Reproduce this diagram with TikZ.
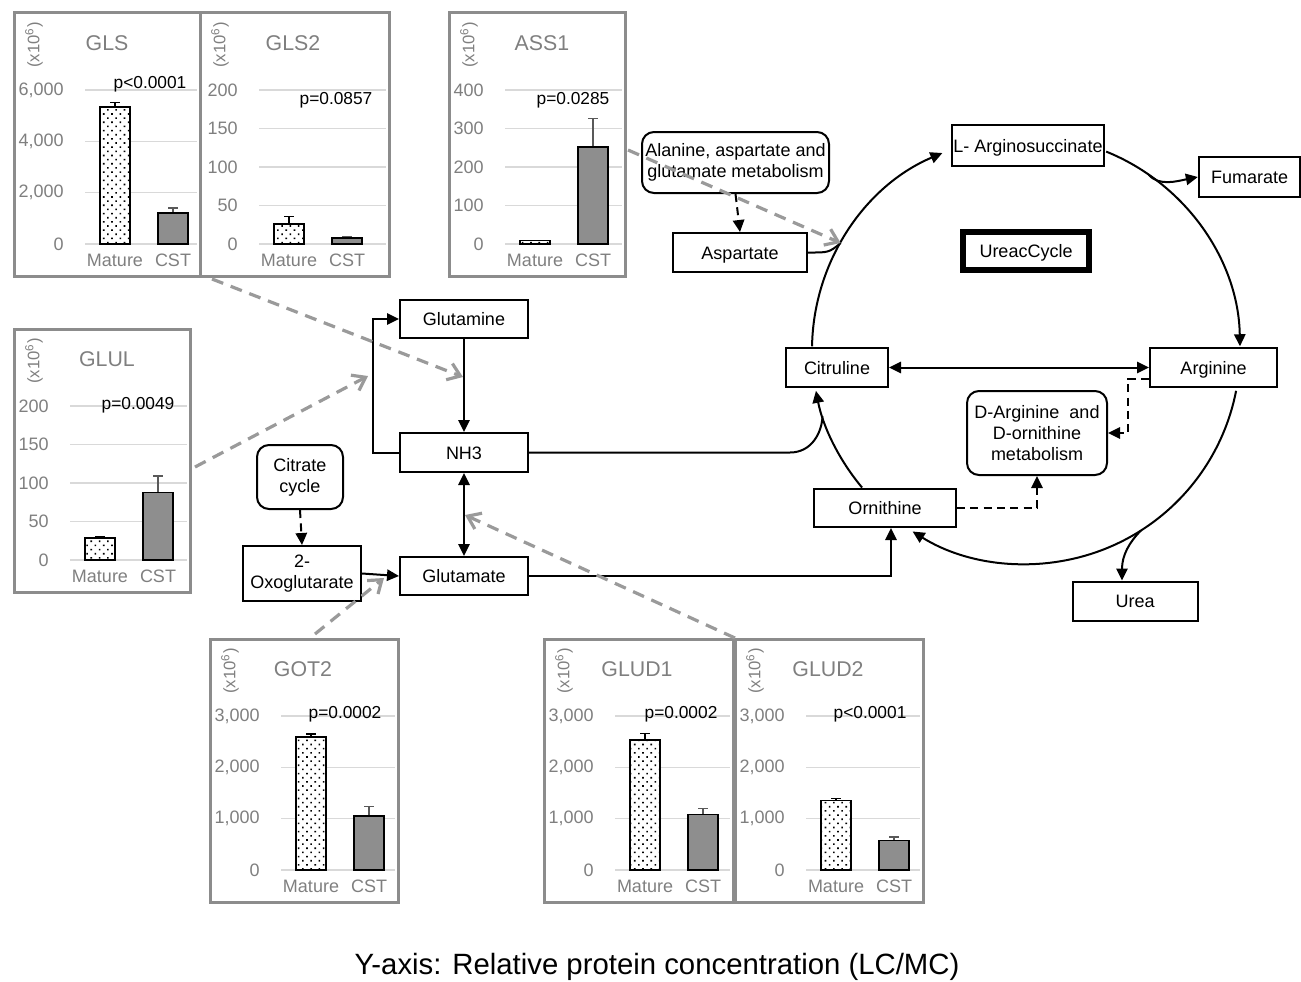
\documentclass[tikz,border=0pt]{standalone}
\usepackage{fontspec}
\setmainfont{Liberation Sans}
\usetikzlibrary{arrows.meta,calc,patterns.meta}
\definecolor{chartGray}{HTML}{8C8C8C}
\definecolor{chartText}{HTML}{7F7F7F}
\definecolor{chartGrid}{HTML}{D9D9D9}
\definecolor{cstFill}{HTML}{8E8E8E}
\definecolor{enzArrow}{HTML}{9A9A9A}
\tikzset{
    % Chart parts
    panel/.style={draw=chartGray, line width=2.25pt},
    unitlbl/.style={rotate=90, text=chartText, font=\fontsize{12.5}{13}\selectfont, inner sep=0pt},
    ctitle/.style={text=chartText, font=\fontsize{16}{18}\selectfont, inner sep=0pt},
    tick/.style={text=chartText, font=\fontsize{13.5}{15}\selectfont, inner sep=0pt},
    catlbl/.style={text=chartText, font=\fontsize{13.5}{15}\selectfont, inner sep=0pt},
    pval/.style={font=\fontsize{13}{15}\selectfont, inner sep=0pt},
    gridln/.style={draw=chartGrid, line width=1.1pt},
    mbar/.style={draw=black, line width=1.1pt, pattern={Dots[distance=4.4pt, angle=45, radius=0.85pt]}},
    cbar/.style={draw=black, line width=1.1pt, fill=cstFill},
    merr/.style={draw=black, line width=0.9pt},
    cerr/.style={draw=black!65, line width=0.9pt},
    % Pathway parts
    metab/.style={draw, line width=1.5pt, inner sep=1pt, align=center, font=\fontsize{13.5}{15.75}\selectfont},
    single/.style={metab, text height=1em, text depth=0pt},
    pathway/.style={metab, rounded corners=9pt},
    flowline/.style={line width=1.5pt},
    flow/.style={flowline, -{Triangle[length=9pt, width=8.5pt]}},
    bflow/.style={flowline, {Triangle[length=9pt, width=8.5pt]}-{Triangle[length=9pt, width=8.5pt]}},
    dflow/.style={flow, dash pattern=on 6pt off 4pt},
    enzyme/.style={draw=enzArrow, line width=2.4pt, dash pattern=on 9pt off 6pt, -{Straight Barb[length=9pt, width=13pt]}}
}
% #1 left, #2 top, #3 width, #4 axis offset, #5 title, #6 tick labels,
% #7 axis max, #8 mature/err/cst/err, #9 p-value dx/dy/text
\newcommand{\barpanel}[9]{%
  \begin{scope}[shift={(#1,#2)}]
    \draw[panel] (0,0) rectangle (#3,263);
    \node[unitlbl] at (20,32) {(x10\textsuperscript{6})};
    \node[ctitle] at (93,30) {#5};
    \foreach \lab [count=\n] in {#6} {\xdef\nticks{\n}}
    \foreach \lab [count=\k from 0] in {#6} {
      \pgfmathsetmacro\gy{77+\k*154/(\nticks-1)}
      \draw[gridln] (#4,\gy) -- (#3-3,\gy);
      \node[tick, anchor=east] at (#4-21,\gy) {\lab};
    }
    \foreach \m/\me/\c/\ce in {#8} {
      \pgfmathsetmacro\hm{231-\m/#7*154}
      \pgfmathsetmacro\hme{231-\me/#7*154}
      \pgfmathsetmacro\hc{231-\c/#7*154}
      \pgfmathsetmacro\hce{231-\ce/#7*154}
      \draw[merr] (#4+30,\hm) -- (#4+30,\hme) (#4+25,\hme) -- (#4+35,\hme);
      \draw[cerr] (#4+88,\hc) -- (#4+88,\hce) (#4+83,\hce) -- (#4+93,\hce);
      \fill[white] (#4+15,231) rectangle (#4+45,\hm);
      \draw[mbar] (#4+15,231) rectangle (#4+45,\hm);
      \draw[cbar] (#4+73,231) rectangle (#4+103,\hc);
    }
    \node[catlbl] at (#4+30,247) {Mature};
    \node[catlbl] at (#4+88,247) {CST};
    \foreach \px/\py/\ptxt in {#9} {
      \node[pval] at (#4+\px,\py) {\ptxt};
    }
  \end{scope}%
}

\begin{document}
\begin{tikzpicture}[x=0.75pt, y=-0.75pt]
\useasboundingbox (0,0) rectangle (1301,981);

% Enzyme bar charts
\barpanel{14}{13}{186}{71}{GLS}{{6,000},{4,000},{2,000},0}{6000}{5340/5500/1210/1400}{65/71/p<0.0001}
\barpanel{200}{13}{189}{59}{GLS2}{200,150,100,50,0}{200}{26/36/8/9.7}{77/87/p=0.0857}
\barpanel{449}{13}{176}{56}{ASS1}{400,300,200,100,0}{400}{8.5/9/252/327}{68/87/p=0.0285}
\barpanel{14}{329}{176}{56}{GLUL}{200,150,100,50,0}{200}{28.5/31/88/109}{68/76/p=0.0049}
\barpanel{210}{639}{188}{71}{GOT2}{{3,000},{2,000},{1,000},0}{3000}{2590/2650/1050/1233}{64/75/p=0.0002}
\barpanel{544}{639}{189}{71}{GLUD1}{{3,000},{2,000},{1,000},0}{3000}{2532/2655/1077/1202}{66/75/p=0.0002}
\barpanel{735}{639}{188}{71}{GLUD2}{{3,000},{2,000},{1,000},0}{3000}{1350/1397/571/643}{64/75/p<0.0001}

% Glutamate side
\node[single, minimum width=96pt, minimum height=28.5pt] (glutamine) at (464,319) {Glutamine};
\node[single, minimum width=96pt, minimum height=29.25pt] (nh3) at (464,452.5) {NH3};
\node[single, minimum width=96pt, minimum height=28.5pt] (glutamate) at (464,576) {Glutamate};
\node[metab, minimum width=88.5pt, minimum height=41.25pt] (oxo) at (302,573.5) {2-\\Oxoglutarate};
\node[pathway, minimum width=64.5pt, minimum height=48pt] (citrate) at (300,477) {Citrate\\cycle};
\node[pathway, minimum width=140.25pt, minimum height=45.75pt] (alanine) at (735.5,162.5) {Alanine, aspartate and\\glutamate metabolism};
\node[single, minimum width=100.5pt, minimum height=29.25pt] (aspartate) at (740,252.5) {Aspartate};

% Urea cycle side
\coordinate (uc) at (1026,350);
\node[single, minimum width=114pt, minimum height=30.75pt, inner sep=0.5pt] (argsucc) at (1028,145.5) {L- Arginosuccinate};
\node[single, minimum width=76pt, minimum height=30pt] (fumarate) at (1249.5,177) {Fumarate};
\node[single, line width=4.5pt, minimum width=94.5pt, minimum height=28.5pt] (ureacycle) at (1026,251) {UreacCycle};
\node[single, minimum width=76.5pt, minimum height=29.25pt] (citruline) at (837,367.5) {Citruline};
\node[single, minimum width=95.25pt, minimum height=29.25pt] (arginine) at (1213.5,367.5) {Arginine};
\node[pathway, minimum width=105pt, minimum height=63pt] (darg) at (1037,433) {D-Arginine \ and\\D-ornithine\\metabolism};
\node[single, minimum width=106.5pt, minimum height=28.5pt] (ornithine) at (885,508) {Ornithine};
\node[single, minimum width=93.75pt, minimum height=29.25pt] (urea) at (1135,601) {Urea};

% Cycle arcs
\draw[flow] ($(uc)+(181:214)$) arc[start angle=181, end angle=247, radius=214];
\draw[flow] ($(uc)+(292:214)$) arc[start angle=292, end angle=359, radius=214];
\draw[flow] ($(uc)+(11:214)$) arc[start angle=11, end angle=122, radius=214];
\draw[flow] ($(uc)+(140:214)$) arc[start angle=140, end angle=169, radius=214];
\coordinate (nj) at ($(uc)+(162:214)$);
\coordinate (aj) at ($(uc)+(210:214)$);
\coordinate (fj) at ($(uc)+(305:214)$);
\coordinate (uj) at ($(uc)+(57.5:214)$);
\draw[flow] (fj) .. controls +(10,12) and +(-20,4) .. (fumarate.west);
\draw[flow] (uj) .. controls +(-12,12) and +(0,-25) .. ($(urea.north)+(-13,0)$);

% Connectors
\draw[flow] (glutamine.south) -- (nh3.north);
\draw[flow] (nh3.west) -- ++(-26,0) |- (glutamine.west);
\draw[bflow] (nh3.south) -- (glutamate.north);
\draw[flow] (oxo.east) -- (glutamate.west);
\draw[dflow] (citrate.south) -- (oxo.north);
\draw[dflow] (alanine.south) -- (aspartate.north);
\draw[flow] (glutamate.east) -| ([xshift=4.5pt]ornithine.south);
\draw[flowline] (nh3.east) -- (790,452.5) .. controls (812,452.5) and (822,432) .. (nj);
\draw[flowline] (aspartate.east) .. controls +(20,0) and +(-12,10) .. (aj);
\draw[bflow] (citruline.east) -- (arginine.west);
\draw[dflow] ([yshift=-8.25pt]arginine.west) -- ++(-21,0) |- (darg.east);
\draw[dflow] (ornithine.east) -| (darg.south);

% Enzyme links
\coordinate (glsE) at (212,279);
\coordinate (glsT) at (463,377);
\coordinate (glulE) at (195,467);
\coordinate (glulT) at (368,376);
\coordinate (ass1E) at (628,150);
\coordinate (got2E) at (315,634);
\coordinate (got2T) at (384,578);
\coordinate (gludE) at (735,638);
\coordinate (gludT) at (465,515);
\draw[enzyme] (glsE) -- (glsT);
\draw[enzyme] (glulE) -- (glulT);
\draw[enzyme] (ass1E) -- (aj);
\draw[enzyme] (got2E) -- (got2T);
\draw[enzyme] (gludE) -- (gludT);

\node[font=\fontsize{22}{26}\selectfont] (caption) at (657,967) {Y-axis: Relative protein concentration (LC/MC)};
\end{tikzpicture}
\end{document}
